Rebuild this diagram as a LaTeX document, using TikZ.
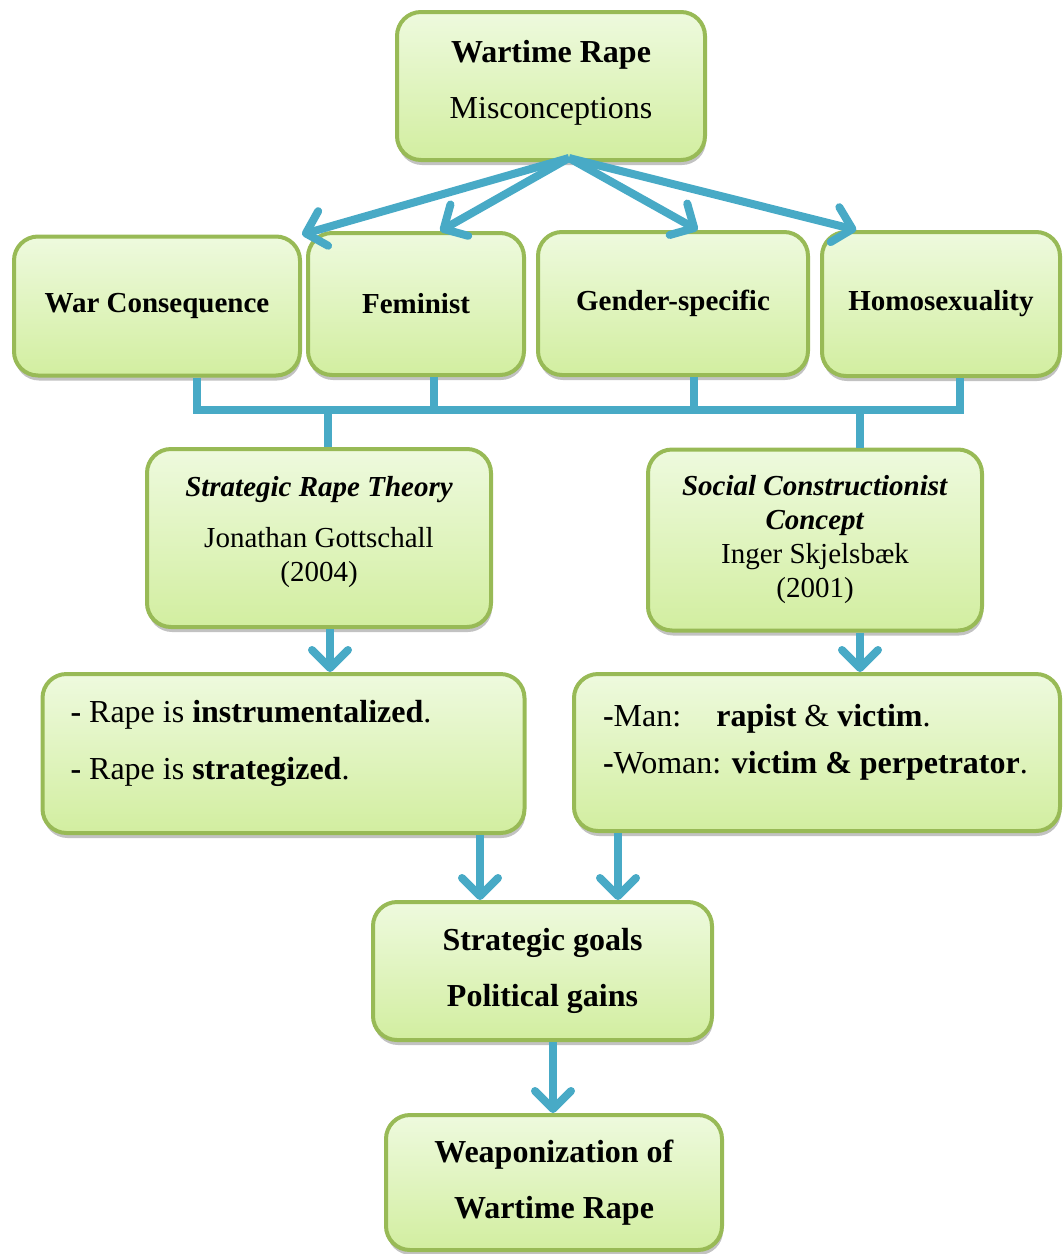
\documentclass[tikz,border=0pt]{standalone}
\usepackage{fontspec}
\setmainfont{Liberation Serif}
\usetikzlibrary{arrows.meta,calc,shadows}
\definecolor{boxtop}{RGB}{238,250,222}
\definecolor{boxbot}{RGB}{210,238,160}
\definecolor{boxline}{RGB}{152,186,86}
\definecolor{flow}{RGB}{72,170,198}
\begin{document}
\begin{tikzpicture}[x=0.5pt, y=-0.5pt,
    box/.style={draw=boxline, line width=2pt, rounded corners=12pt,
        top color=boxtop, bottom color=boxbot, align=center, inner sep=0pt,
        drop shadow={shadow xshift=0.5pt, shadow yshift=-2.5pt, opacity=0.4, fill=black!60}},
    link/.style={draw=flow, line width=4pt},
    flow arrow/.style={link, -{Straight Barb[length=9pt,width=18pt,round]}},
    big/.style={font=\fontsize{16}{28}\selectfont},
    mid/.style={font=\fontsize{14.5}{17}\selectfont}]
    \useasboundingbox (0,0) rectangle (1064,1254);
    % title
    \node[box, big, minimum width=154pt, minimum height=74pt, text depth=7pt] (wr) at (551,86)
        {\textbf{Wartime Rape}\\Misconceptions};
    % misconceptions
    \node[box, mid, minimum width=143pt, minimum height=69.5pt] (wc) at (157,306) {\textbf{War Consequence}};
    \node[box, mid, minimum width=108pt, minimum height=71pt] (fe) at (416,304) {\textbf{Feminist}};
    \node[box, mid, minimum width=135pt, minimum height=71.5pt] (gs) at (673,303.5) {\textbf{Gender-specific}};
    \node[box, mid, minimum width=119pt, minimum height=72pt] (ho) at (941,304) {\textbf{Homosexuality}};
    % theories
    \node[box, mid, minimum width=172pt, minimum height=89pt, text depth=9pt] (sr) at (319,538)
        {\textbf{\textit{Strategic Rape Theory}}\\[8.5pt]Jonathan Gottschall\\(2004)};
    \node[box, mid, minimum width=167pt, minimum height=90.5pt] (sc) at (815,540)
        {\textbf{\textit{Social Constructionist}}\\\textbf{\textit{Concept}}\\Inger Skjelsbæk\\(2001)};
    % claims
    \node[box, align=flush left, text width=213pt, inner xsep=14pt, minimum height=79.5pt,
        text depth=42pt, font=\fontsize{16}{28.5}\selectfont] (ll) at (283.5,753.5)
        {\textbf{-} Rape is \textbf{instrumentalized}.\\\textbf{-} Rape is \textbf{strategized}.};
    \node[box, align=flush left, text width=223pt, inner xsep=10pt, minimum height=78.5pt,
        text depth=37pt, font=\fontsize{16}{23.5}\selectfont] (rl) at (817,752.5)
        {\hspace{4.5pt}\textbf{-}Man:\hspace{1.1em}\textbf{rapist} \& \textbf{victim}.\\\hspace{4.5pt}\textbf{-}Woman: \textbf{victim \& perpetrator}.};
    % outcome
    \node[box, big, minimum width=169.5pt, minimum height=69pt] (sg) at (542.5,971)
        {\textbf{Strategic goals}\\\textbf{Political gains}};
    \node[box, big, minimum width=168pt, minimum height=67.5pt] (wp) at (554,1182.5)
        {\textbf{Weaponization of}\\\textbf{Wartime Rape}};
    % fan out
    \coordinate (hub) at (569,158);
    \draw[flow arrow] (hub) -- (wc.north east);
    \draw[flow arrow] (hub) -- ($(fe.north west)!0.61!(fe.north east)$);
    \draw[flow arrow] (hub) -- ($(gs.north west)!0.59!(gs.north east)$);
    \draw[flow arrow] (hub) -- ($(ho.north west)!0.15!(ho.north east)$);
    % bar
    \coordinate (barL) at (197,410);
    \coordinate (barR) at (960,410);
    \foreach \b/\o in {wc/40, fe/18, gs/21, ho/19}
        \draw[link] ($(\b.south)+(\o,0)$) coordinate (s) -- (s |- barL);
    \draw[link, line cap=rect] (barL) -- (barR);
    \draw[link] ($(sr.north)+(9,0)$) coordinate (d) -- (d |- barL);
    \draw[link] ($(sc.north)+(45,0)$) coordinate (d) -- (d |- barL);
    % down
    \draw[flow arrow] ($(sr.south)+(11,0)$) coordinate (d) -- (d |- ll.north);
    \draw[flow arrow] ($(sc.south)+(45,0)$) coordinate (d) -- (d |- rl.north);
    \draw[flow arrow] ($(ll.south)+(196.5,0)$) coordinate (d) -- (d |- sg.north);
    \draw[flow arrow] ($(rl.south)+(-199,0)$) coordinate (d) -- (d |- sg.north);
    \draw[flow arrow] ($(sg.south)+(10.5,0)$) coordinate (d) -- (d |- wp.north);
\end{tikzpicture}
\end{document}
